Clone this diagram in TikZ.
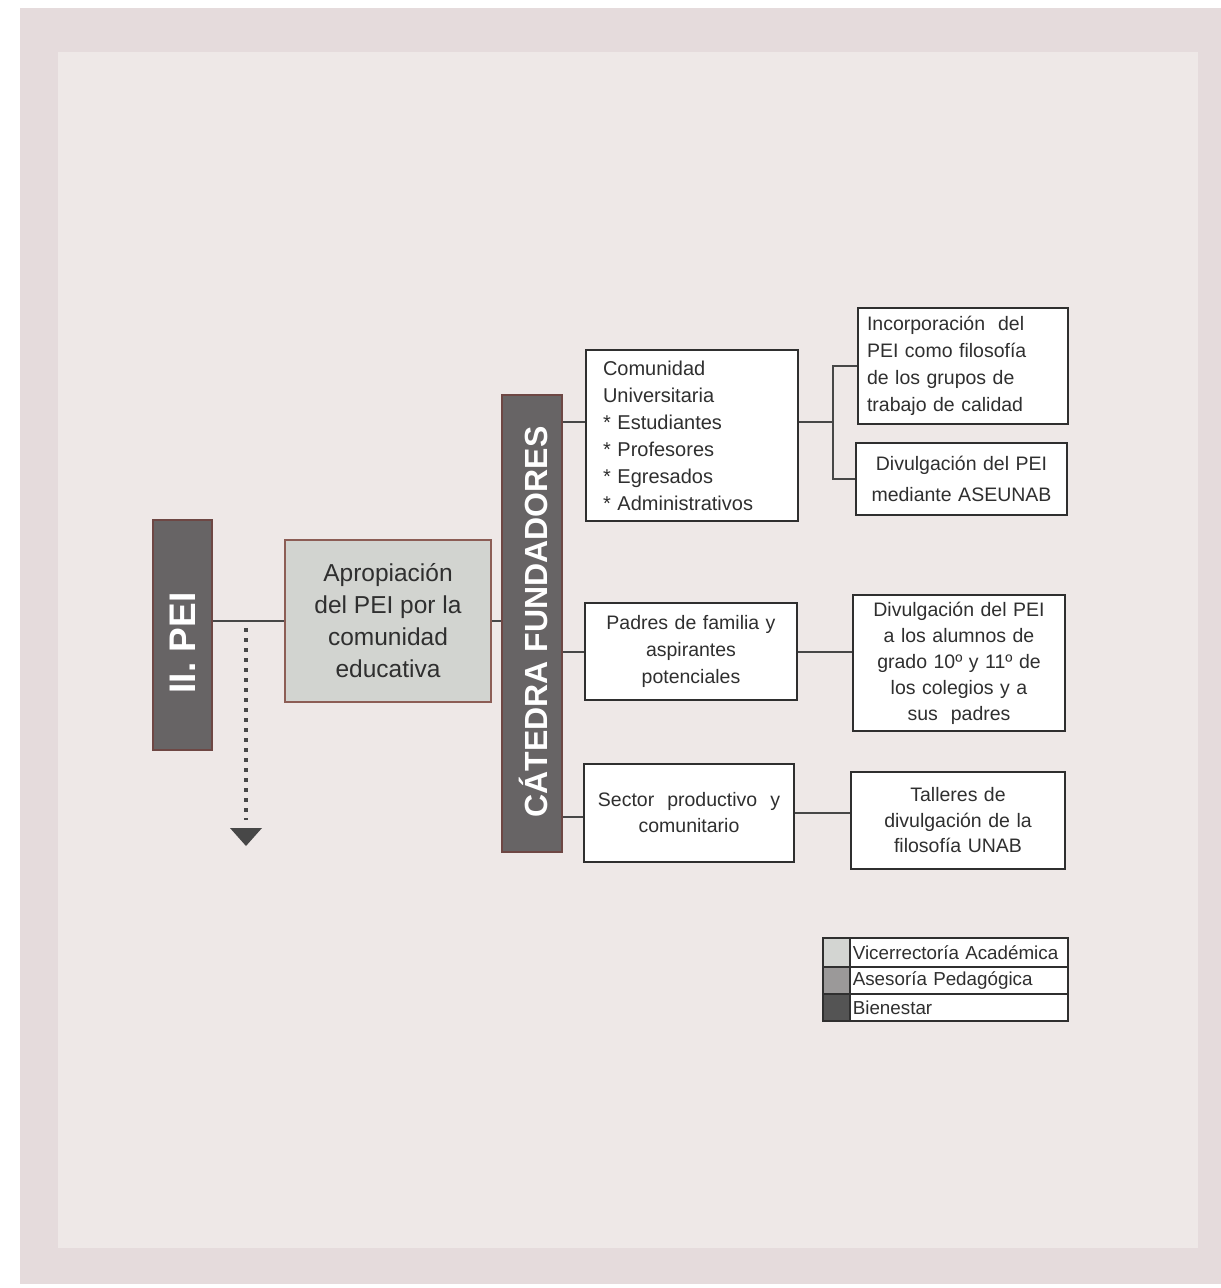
\documentclass[tikz,border=0pt]{standalone}
\usepackage{fontspec}
\setmainfont{Liberation Sans}
\usetikzlibrary{calc}
\definecolor{frameC}{HTML}{E5DBDC}
\definecolor{panelC}{HTML}{EEE8E7}
\definecolor{barC}{HTML}{676465}
\definecolor{barB}{HTML}{6E4744}
\definecolor{aprC}{HTML}{D2D4D0}
\definecolor{aprB}{HTML}{8C5D55}
\definecolor{inkC}{HTML}{2F2F2F}
\definecolor{lineC}{HTML}{474747}
\definecolor{swA}{HTML}{D3D5D2}
\definecolor{swB}{HTML}{9B9999}
\definecolor{swC}{HTML}{545454}
\tikzset{
  bar/.style={draw=barB, fill=barC, line width=2pt, text=white, inner sep=0pt},
  wbox/.style={draw=inkC, fill=white, line width=2pt, text=inkC, inner sep=0pt},
  conn/.style={draw=lineC, line width=2pt},
  legcell/.style={draw=inkC, line width=1.6pt, inner sep=0pt, anchor=north west},
  legtext/.style={legcell, fill=white, minimum width=218pt, text width=212pt, align=left,
    font=\fontsize{18.8}{20}\selectfont, text=inkC},
}
\begin{document}
\begin{tikzpicture}[x=1pt,y=-1pt]
\useasboundingbox (0,0) rectangle (1221,1288);
\fill[white] (0,0) rectangle (1221,1288);
\fill[frameC] (20,8) rectangle (1221,1284);
\fill[panelC] (58,52) rectangle (1198,1248);

% bars
\node[bar, minimum width=59pt, minimum height=230pt] (pei) at (182.5,635) {};
\node[rotate=90, text=white, font=\fontsize{37}{40}\selectfont\bfseries] (peit) at (183,643) {II. PEI};
\node[bar, minimum width=60pt, minimum height=457pt] (cat) at (532,623.5) {};
\node[rotate=90, text=white, font=\fontsize{32}{36}\selectfont\bfseries] (catt) at (533,622) {CÁTEDRA FUNDADORES};

% apropiacion
\node[draw=aprB, fill=aprC, line width=2pt, text=inkC, minimum width=206pt, minimum height=162pt,
  align=center, font=\fontsize{24.5}{32}\selectfont] (apr) at (388,621)
  {Apropiación\\del PEI por la\\comunidad\\educativa};

% second column
\node[wbox, minimum width=212pt, minimum height=171pt, text width=178pt, align=left,
  font=\fontsize{20}{27}\selectfont] (com) at (692,435.5)
  {Comunidad\\Universitaria\\{*} Estudiantes\\{*} Profesores\\{*} Egresados\\{*} Administrativos};
\node[wbox, minimum width=212pt, minimum height=97pt, text width=200pt, align=center,
  font=\fontsize{19.5}{27}\selectfont] (pad) at (691,651.5)
  {Padres de familia y\\aspirantes\\potenciales};
\node[wbox, minimum width=210pt, minimum height=98pt, text width=200pt, align=center,
  font=\fontsize{19.5}{26}\selectfont] (sec) at (689,813)
  {Sector \ productivo \ y\\comunitario};

% third column
\node[wbox, minimum width=210pt, minimum height=116pt, text width=192pt, align=left,
  font=\fontsize{19.5}{27}\selectfont] (inc) at (963,366)
  {Incorporación \ del\\PEI como filosofía\\de los grupos de\\trabajo de calidad};
\node[wbox, minimum width=211pt, minimum height=72pt, text width=205pt, align=center,
  font=\fontsize{19.5}{31}\selectfont] (ase) at (961.5,479)
  {Divulgación del PEI\\mediante ASEUNAB};
\node[wbox, minimum width=212pt, minimum height=136pt, text width=205pt, align=center,
  font=\fontsize{19.5}{26}\selectfont] (div) at (959,663)
  {Divulgación del PEI\\a los alumnos de\\grado 10º y 11º de\\los colegios y a\\sus \ padres};
\node[wbox, minimum width=214pt, minimum height=97pt, text width=205pt, align=center,
  font=\fontsize{19.5}{25.5}\selectfont] (tal) at (958,820.5)
  {Talleres de\\divulgación de la\\filosofía UNAB};

% connectors
\draw[conn] (apr.west -| pei.east) -- (apr.west);
\draw[conn] (apr.east) -- (apr.east -| cat.west);
\draw[conn] ([yshift=13.5pt]com.west -| cat.east) -- ([yshift=13.5pt]com.west);
\draw[conn] ([yshift=13.5pt]com.east) -- ++(34,0) coordinate (cj);
\draw[conn] (inc.west) -| (cj);
\draw[conn] (ase.west) -| (cj);
\draw[conn] (pad.west -| cat.east) -- (pad.west);
\draw[conn] (pad.east) -- (pad.east -| div.west);
\draw[conn] ([yshift=-4pt]sec.west -| cat.east) -- ([yshift=-4pt]sec.west);
\draw[conn] (sec.east) -- (sec.east -| tal.west);

% dotted arrow
\coordinate (dstart) at (246,624);
\coordinate (dend) at (246,846);
\draw[draw=lineC, line width=3.5pt, dash pattern=on 3.5pt off 6.5pt] ([yshift=-4pt]dstart) -- ($(dend)+(0,-26)$);
\fill[lineC] ($(dend)+(-16,-18)$) -- ($(dend)+(16,-18)$) -- (dend) -- cycle;

% legend
\node[legcell, fill=swA, minimum width=27pt, minimum height=29pt] (s1) at (822,937) {};
\node[legtext, minimum height=29pt] (l1) at (849,937) {Vicerrectoría Académica};
\node[legcell, fill=swB, minimum width=27pt, minimum height=27pt] (s2) at (822,966) {};
\node[legtext, minimum height=27pt] (l2) at (849,966) {Asesoría Pedagógica};
\node[legcell, fill=swC, minimum width=27pt, minimum height=27pt] (s3) at (822,993) {};
\node[legtext, minimum height=27pt] (l3) at (849,993) {Bienestar};
\end{tikzpicture}
\end{document}
